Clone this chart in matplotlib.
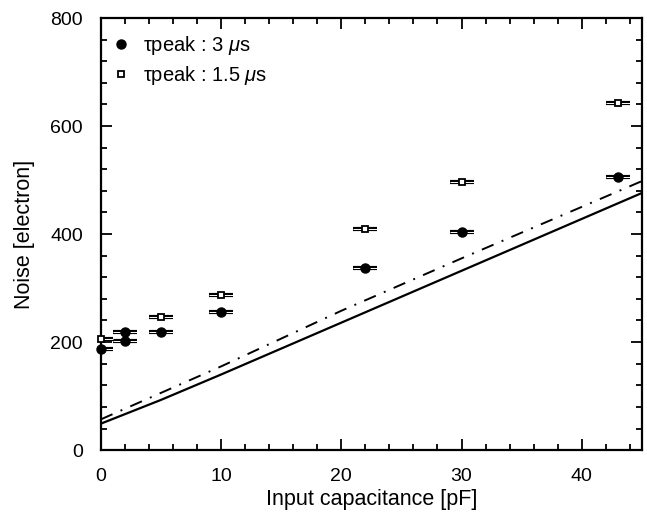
import matplotlib
matplotlib.use("Agg")
import matplotlib.pyplot as plt
from matplotlib.ticker import MultipleLocator

plt.rcParams['font.family'] = ['Liberation Sans', 'DejaVu Sans']
plt.rcParams['mathtext.fontset'] = 'custom'
plt.rcParams['mathtext.it'] = 'Liberation Sans:italic'
plt.rcParams['mathtext.rm'] = 'Liberation Sans'

# Data
cap_3us = [0, 2, 2, 5, 10, 22, 30, 43]
noise_3us = [188, 202, 219, 218, 255, 338, 404, 506]
cap_15us = [0, 5, 10, 22, 30, 43]
noise_15us = [205, 246, 287, 409, 496, 642]
cap_err = 1.0

curve_c = [0, 5, 10, 20, 30, 45]
solid_noise = [49, 93, 140, 236, 332, 476]
dashdot_noise = [57, 106, 155, 258, 355, 498]

label_3us = r'τpeak : 3 $\mu$s'
label_15us = r'τpeak : 1.5 $\mu$s'

fig = plt.figure(figsize=(6.47, 5.15), dpi=100)
ax = fig.add_axes([0.156, 0.126, 0.836, 0.839])

ax.plot(curve_c, solid_noise, color='black', lw=1.6, solid_capstyle='butt')
ax.plot(curve_c, dashdot_noise, color='black', lw=1.4,
        dashes=(6.5, 4.5, 1.0, 4.5))

for cx, ny in ((cap_3us, noise_3us), (cap_15us, noise_15us)):
    ax.errorbar(cx, ny, xerr=cap_err, fmt='none', ecolor='black',
                elinewidth=3.0, capsize=0, zorder=3)
    ax.errorbar(cx, ny, xerr=cap_err, fmt='none', ecolor='white',
                elinewidth=0.7, capsize=0, zorder=3.5)

ax.plot(cap_3us, noise_3us, 'o', color='black', ms=6.5, ls='none',
        label=label_3us, zorder=4, clip_on=False)
ax.plot(cap_15us, noise_15us, 's', mfc='white', mec='black', mew=1.3,
        ms=5.0, ls='none', label=label_15us, zorder=4, clip_on=False)

ax.set_xlim(0, 45)
ax.set_ylim(0, 800)
ax.xaxis.set_major_locator(MultipleLocator(10))
ax.xaxis.set_minor_locator(MultipleLocator(2))
ax.yaxis.set_major_locator(MultipleLocator(200))
ax.yaxis.set_minor_locator(MultipleLocator(40))
ax.tick_params(which='both', direction='in', top=True, right=True,
               labelsize=14, width=1.3)
ax.tick_params(which='major', length=8, pad=13)
ax.tick_params(which='minor', length=4.5)
for s in ax.spines.values():
    s.set_linewidth(1.6)

ax.set_xlabel('Input capacitance [pF]', fontsize=15.5, labelpad=3)
ax.set_ylabel('Noise [electron]', fontsize=15.5, labelpad=11)

ax.legend(loc='upper left', frameon=False, fontsize=14.5, handlelength=2.0,
          handletextpad=0.1, labelspacing=0.35, borderaxespad=0.0,
          borderpad=0.0, bbox_to_anchor=(0.0, 0.963))

fig.savefig('out.png', dpi=100)
